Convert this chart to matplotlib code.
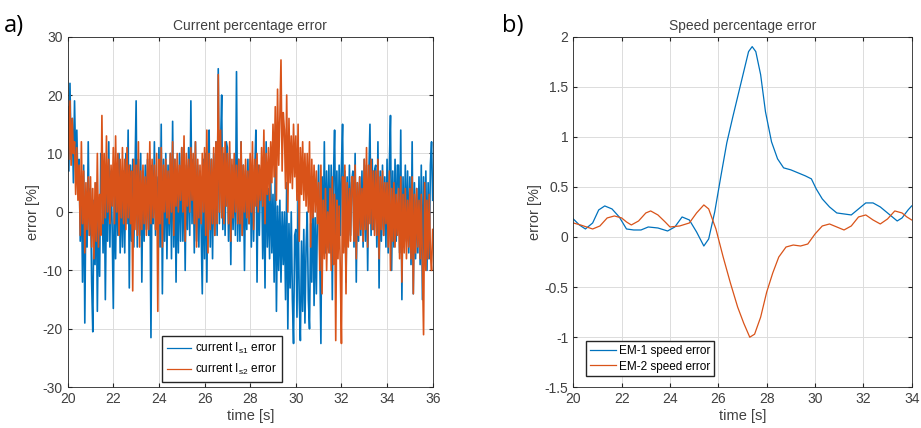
## Current and speed percentage error plots (a and b panels)

import numpy as np
import matplotlib.pyplot as plt
from matplotlib.ticker import FormatStrFormatter, MultipleLocator

plt.rcParams['font.family'] = 'Liberation Sans'
plt.rcParams['axes.unicode_minus'] = False

# panel a) current error, read every 0.05 s from 20 to 36 s (10 values per half second)
err_is1 = [18, 7, 22, 9, 16, 5, 19, 8, 14, 4,
           9, -5, 6, -12, 8, -19, 3, -6, 12, -4,
           4, -12, -20.5, 2, -9, 5, -17, 0, -11, 10,
           6, -7, 8, -15, 3, -5, 12, -6, 7, -3,
           -16.5, 6, -8, 8, -4, 10, -7, 5, -6, 7,
           -7, 10, -2, 14, -13, 8, -5, 9, -6, 6,
           19, -6, 9, -4, 10, -12, 7, -5, 8, -3,
           9, -4, 7, -21.5, 8, -2, 12, -4, 6, -3,
           11, -6, 15, -14, 9, -5, 10, -8, 8, -4,
           10, -8, 15.5, -6, 9, -12, 7, -7, 10, -5,
           11, -5, 9, -10, 8, -3, 11, -4, 19, -2,
           9, -7, 12, -5, 8, -6, 7, -3, -14, 9,
           -8, 10, -12, 7, 14, -6, 9, -8, 10, -4,
           12, -4, 24.5, -2, 11, 20, -3, 10, -4, 12,
           11, -5, 10, -9, 8, -3, 9, -4, 24, -5,
           9, -5, 12, -4, 8, -10, 7, -3, 9, -2,
           9, -6, 8, -5, 7, 14, -12, 8, -4, 6,
           7, -8, 5, -13, 12, -6, 4, -8, 6, -7,
           3, -12, 8, -17, 1, -10, 2, -12, 0, -9,
           0, -15, 5, -20, -2, -13, 0, -15, -22.5, -4,
           -3, -18, 3, -15, -22, -5, -17, -3, -19, -6,
           0, -15, -20, -2, -12, 6, -16, -1, -14, 0,
           8, -8, -22.5, 6, -6, 12, -7, 7, -5, 8,
           -7, 8, -15, 6, 14, -5, 7, -6, 8, -4,
           8, 15, -6, 7, -12, 6, -5, 8, -4, 5,
           7, -6, 10, -12, 5, -5, 6, -4, 7, -6,
           9, -5, 8, -10, 6, 15, -4, 9, -3, 7,
           8, -6, 12, -13, 7, -5, 8, -4, 6, -6,
           9, -7, 8, 16.5, -10, 7, -6, 9, -5, 8,
           8, -7, 14, -15, 6, -6, 8, -5, 7, -7,
           6, -9, 12, -14, 5, -8, 4, -7, 6, -9,
           8, -15, 6, -8, 7, -10, 5, -8, 8, 12,
           2]

err_is2 = [18, 9, 19, 8, 16, 10, 12, 3, 11, 2,
           8, -4, 12, -2, 7, -7, 5, -3, 6, -4,
           6, -6, 4, -8, 5, -5, 10, -6, 3, -4,
           16.5, -2, 10, -1, 13, 0, 9, -2, 8, 1,
           11, -2, 13, 0, 10, -4, 9, -1, 11, -2,
           9, -3, 11, -1, 8, -2, 7, -13.5, 9, -3,
           8, -4, 12, -6, 7, -3, 8, -2, 6, -4,
           10, -3, 12, -2, 9, -1, 8, -3, 10, -17,
           9, -2, 11, -6, 8, 0, 9, -1, 7, -2,
           10, 0, 12, -4, 9, 1, 10, 0, 8, 2,
           11, 0, 13, -5, 10, 1, 9, 0, 11, 2,
           10, -2, 12, -6, 9, -1, 8, -2, 10, 0,
           11, -4, 14, -7, 10, -3, 9, -2, 11, -4,
           12, -2, 23.5, 0, 14, -1, 11, -2, 12, 1,
           10, -2, 12, -5, 9, -1, 10, 0, 8, -2,
           9, -2, 12, -4, 8, 0, 9, -1, 7, -2,
           10, 0, 12, -3, 9, 1, 10, 0, 8, 2,
           11, 1, 14, -2, 10, 3, 11, 2, 12, 5,
           15, 6, 18, 2, 21, 8, 16, 26, 7, 17,
           14, 4, 20, 0, 16, 5, 13, 4, 15, 6,
           13, 2, 15, -5, 11, 3, 12, 2, 10, 1,
           10, 0, 12, -6, 9, -1, 8, 0, 7, -2,
           5, -10, 8, -14, 2, -8, 4, -10, 0, -7,
           4, -10, 6, -9, 3, -22, 2, -8, 1, -10,
           -22.5, 6, -7, 8, -14, 5, -6, 4, -5, 6,
           6, -5, 8, -8, 5, -4, 6, -3, 4, -5,
           9, -3, 11, -6, 8, -2, 9, -3, 7, -4,
           7, -4, 9, -8, 6, -3, 7, -4, 5, -2,
           5, -6, 7, -10, 4, -5, 5, -6, 3, -4,
           4, -8, 6, -12, 3, -7, 4, -8, 2, -6,
           4, -8, 6, -14, 3, -7, 4, -6, 2, -8,
           3, -9, -21, 5, -10, 2, -8, 3, -7, -10,
           -3]

time_a = np.linspace(20, 36, len(err_is1))

# panel b) speed error
time_em1 = [20.0, 20.25, 20.5, 20.8, 21.05, 21.3, 21.6, 21.9, 22.2, 22.5, 22.8, 23.1, 23.5,
            23.9, 24.2, 24.5, 24.8, 25.1, 25.4, 25.6, 25.85, 26.1, 26.35, 26.6, 26.85,
            27.05, 27.25, 27.4, 27.55, 27.75, 27.95, 28.2, 28.45, 28.7, 29.0, 29.3,
            29.6, 29.85, 30.05, 30.3, 30.6, 30.9, 31.2, 31.5, 31.8, 32.1, 32.4, 32.7,
            33.0, 33.2, 33.4, 33.6, 33.85, 34.0]
err_em1 = [0.18, 0.12, 0.08, 0.14, 0.27, 0.31, 0.28, 0.2, 0.08, 0.07, 0.07, 0.1, 0.09,
           0.06, 0.1, 0.2, 0.17, 0.05, -0.09, -0.02, 0.25, 0.6, 0.94, 1.2, 1.45,
           1.65, 1.85, 1.9, 1.85, 1.62, 1.25, 0.95, 0.78, 0.69, 0.67, 0.64,
           0.61, 0.58, 0.48, 0.38, 0.3, 0.24, 0.23, 0.22, 0.28, 0.34, 0.34, 0.3,
           0.24, 0.2, 0.16, 0.19, 0.27, 0.31]

time_em2 = [20.0, 20.3, 20.55, 20.8, 21.1, 21.4, 21.7, 22.0, 22.2, 22.4, 22.7, 23.0, 23.2,
            23.5, 23.8, 24.0, 24.4, 24.8, 25.1, 25.4, 25.6, 25.9, 26.2, 26.5, 26.8,
            27.05, 27.3, 27.5, 27.75, 28.0, 28.25, 28.5, 28.8, 29.1, 29.4, 29.7,
            30.0, 30.3, 30.6, 30.9, 31.2, 31.5, 31.8, 32.1, 32.4, 32.7, 33.0, 33.3,
            33.6, 33.8, 34.0]
err_em2 = [0.14, 0.12, 0.1, 0.08, 0.11, 0.19, 0.21, 0.19, 0.15, 0.12, 0.16, 0.24, 0.26,
           0.22, 0.15, 0.1, 0.11, 0.14, 0.24, 0.32, 0.28, 0.08, -0.2, -0.46, -0.7,
           -0.86, -1.0, -0.97, -0.8, -0.55, -0.36, -0.2, -0.1, -0.08, -0.09, -0.07,
           0.03, 0.11, 0.13, 0.1, 0.07, 0.11, 0.2, 0.22, 0.17, 0.13, 0.18, 0.26,
           0.24, 0.2, 0.17]

blue = '#0072BD'
orange = '#D95319'
txt = '#404040'

fig = plt.figure(figsize=(9.21, 4.28), dpi=100, facecolor='white')
ax1 = fig.add_axes([0.0735, 0.0951, 0.3963, 0.8194])
ax2 = fig.add_axes([0.6225, 0.0951, 0.3674, 0.8194])

ax1.plot(time_a, err_is1, color=blue, lw=1.2, label=r'current I$_{\mathregular{s1}}$ error')
ax1.plot(time_a, err_is2, color=orange, lw=1.2, label=r'current I$_{\mathregular{s2}}$ error')
ax1.set_xlim(20, 36)
ax1.set_ylim(-30, 30)
ax1.xaxis.set_major_locator(MultipleLocator(2))
ax1.yaxis.set_major_locator(MultipleLocator(10))
ax1.set_title('Current percentage error', fontsize=10, color=txt, pad=5)
leg1 = ax1.legend(loc='lower left', bbox_to_anchor=(0.258, 0.015), fontsize=8.5,
                  handlelength=2.1, handletextpad=0.3, fancybox=False, edgecolor='#262626',
                  framealpha=1, borderaxespad=0)
for line in leg1.get_lines():
    line.set_linewidth(0.9)

ax2.plot(time_em1, err_em1, color=blue, lw=0.9, label='EM-1 speed error')
ax2.plot(time_em2, err_em2, color=orange, lw=0.9, label='EM-2 speed error')
ax2.set_xlim(20, 34)
ax2.set_ylim(-1.5, 2)
ax2.xaxis.set_major_locator(MultipleLocator(2))
ax2.yaxis.set_major_locator(MultipleLocator(0.5))
ax2.yaxis.set_major_formatter(FormatStrFormatter('%g'))
ax2.set_title('Speed percentage error', fontsize=10, color=txt, pad=5)
ax2.legend(loc='lower left', bbox_to_anchor=(0.0375, 0.032), fontsize=8.5, handlelength=2.2,
           handletextpad=0.3, fancybox=False, edgecolor='#262626', framealpha=1,
           borderaxespad=0, borderpad=0.3, labelspacing=0.3)

for ax in (ax1, ax2):
    ax.grid(True, color='#dcdcdc', lw=0.7)
    ax.set_axisbelow(True)
    ax.tick_params(direction='in', labelsize=10, colors='#262626', labelcolor=txt,
                   top=True, right=True, length=3)
    for s in ax.spines.values():
        s.set_color('#262626')
        s.set_linewidth(0.6)
    ax.set_xlabel('time [s]', fontsize=10.5, color=txt, labelpad=2)
    ax.set_ylabel('error [%]', fontsize=10.5, color=txt, labelpad=2)

fig.text(0.004, 0.925, 'a)', fontsize=17, family='Open Sans')
fig.text(0.545, 0.925, 'b)', fontsize=17, family='Open Sans')

plt.savefig('out.png', dpi=100)
